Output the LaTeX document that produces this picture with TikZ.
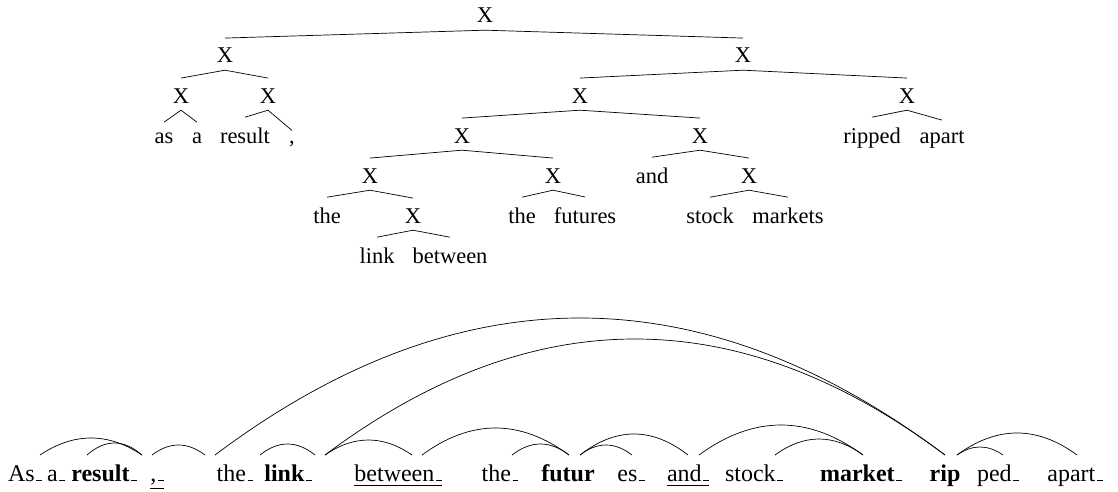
\documentclass[tikz,border=0pt]{standalone}
\usepackage{fontspec}
\setmainfont{Liberation Serif}
\usetikzlibrary{calc}
% word-end marker: a short bar on the baseline
\newcommand\wend{\kern0.07em\rule{0.23em}{0.05em}}
\begin{document}
\begin{tikzpicture}[x=1pt,y=-1pt,
  tn/.style={inner sep=0pt, anchor=base, font=\fontsize{22.5}{27}\selectfont},
  br/.style={line width=0.7pt},
  tok/.style={inner sep=0pt, anchor=base, font=\fontsize{24}{30}\selectfont},
  dep/.style={line width=0.7pt},
  ul/.style={line width=0.7pt}]
\useasboundingbox (0,0) rectangle (1118,492);

% ---------- constituency tree ----------
\node[tn] (r)   at (485,23)  {X};
\node[tn] (l)   at (225,63)  {X};
\node[tn] (R)   at (743,63)  {X};
\node[tn] (la)  at (181,103) {X};
\node[tn] (lb)  at (268,103) {X};
\node[tn] (Ra)  at (580,103) {X};
\node[tn] (Rb)  at (907,103) {X};
\node[tn] (w1)  at (164,143) {as};
\node[tn] (w2)  at (197,143) {a};
\node[tn] (w3)  at (245,143) {result};
\node[tn] (w4)  at (292,143) {,};
\node[tn] (w16) at (872,143) {ripped};
\node[tn] (w17) at (942,143) {apart};
\node[tn] (Raa) at (462,143) {X};
\node[tn] (Rab) at (700,143) {X};
\node[tn] (n1)  at (370,183) {X};
\node[tn] (n2)  at (553,183) {X};
\node[tn] (w12) at (652,183) {and};
\node[tn] (n3)  at (749,183) {X};
\node[tn] (w5)  at (327,223) {the};
\node[tn] (n4)  at (413,223) {X};
\node[tn] (w8)  at (522,223) {the};
\node[tn] (w9)  at (585,223) {futures};
\node[tn] (w13) at (710,223) {stock};
\node[tn] (w14) at (788,223) {markets};
\node[tn] (w6)  at (377,263) {link};
\node[tn] (w7)  at (450,263) {between};

\foreach \p/\c in {r/l, r/R, l/la, l/lb, la/w1, la/w2, lb/w3, lb/w4,
                   R/Ra, R/Rb, Rb/w16, Rb/w17, Ra/Raa, Ra/Rab,
                   Raa/n1, Raa/n2, Rab/w12, Rab/n3, n1/w5, n1/n4,
                   n2/w8, n2/w9, n3/w13, n3/w14, n4/w6, n4/w7}
  \draw[br] ([yshift=-7pt]\p.south) -- ([yshift=10pt]\c.north);

% ---------- subword sequence ----------
\node[tok] (t1)  at (25,481)   {As\wend};
\node[tok] (t2)  at (56,481)   {a\wend};
\node[tok] (t3)  at (104,481)  {\textbf{result}\wend};
\node[tok] (t4)  at (157,481)  {,\wend};
\node[tok] (t5)  at (235,481)  {the\wend};
\node[tok] (t6)  at (288,481)  {\textbf{link}\wend};
\node[tok] (t7)  at (398,481)  {between\wend};
\node[tok] (t8)  at (500,481)  {the\wend};
\node[tok] (t9)  at (568,481)  {\textbf{futur}};
\node[tok] (t10) at (631,481)  {es\wend};
\node[tok] (t11) at (688,481)  {and\wend};
\node[tok] (t12) at (754,481)  {stock\wend};
\node[tok] (t13) at (861,481)  {\textbf{market}\wend};
\node[tok] (t14) at (945,481)  {\textbf{rip}};
\node[tok] (t15) at (998,481)  {ped\wend};
\node[tok] (t16) at (1075,481) {apart\wend};

% underlined tokens
\draw[ul] ([yshift=-7pt]t4.base west) -- ([yshift=-7pt]t4.base east);
\draw[ul] ([yshift=-4pt]t7.base west) -- ([yshift=-4pt]t7.base east);
\draw[ul] ([yshift=-4pt]t11.base west) -- ([yshift=-4pt]t11.base east);

% ---------- arcs between subwords ----------
\foreach \i/\xa/\xb/\h in {1/40/142/17, 2/87/142/12, 3/152/205/10,
                           4/215/945/137, 5/260/315/11, 6/325/945/116,
                           7/325/412/15, 8/422/569/27, 9/512/569/11,
                           10/580/688/21, 11/580/632/10, 12/699/863/30,
                           13/775/863/16, 14/957/1077/22, 15/957/1003/8}
{
  \coordinate (as\i) at (\xa,455);
  \coordinate (ae\i) at (\xb,455);
  \draw[dep] (as\i) .. controls +({(\xb-\xa)/3},{-4*\h/3})
                    and +({-(\xb-\xa)/3},{-4*\h/3}) .. (ae\i);
}
\end{tikzpicture}
\end{document}
